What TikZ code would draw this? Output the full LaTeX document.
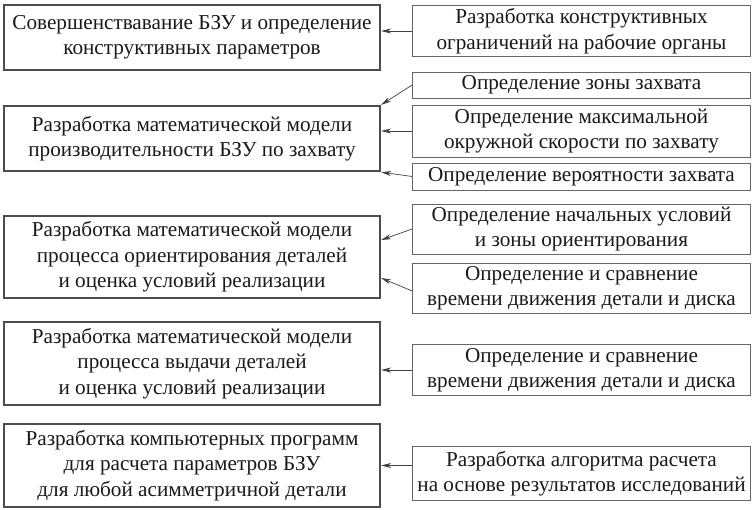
\documentclass[tikz,border=0pt]{standalone}
\usepackage{fontspec}
\setmainfont{Liberation Serif}
\usetikzlibrary{arrows.meta}
\tikzset{
  lbox/.style={draw=black!70, line width=2.4pt, minimum width=376pt, inner sep=0pt, align=center, text=black!90, font=\fontsize{21.2}{25.5}\selectfont},
  rbox/.style={draw=black!60, line width=0.8pt, minimum width=338pt, inner sep=0pt, align=center, text=black!90, font=\fontsize{21.2}{25.5}\selectfont},
  arr/.style={draw=black!75, line width=0.7pt, -{Stealth[length=10pt,width=5pt]}}
}
\begin{document}
\begin{tikzpicture}[x=1pt,y=-1pt]
\useasboundingbox (0,0) rectangle (753,510);
\node[lbox, minimum height=65pt] (b1) at (192,37.5) {Совершенствавание БЗУ и определение\\конструктивных параметров};
\node[lbox, minimum height=65pt] (b2) at (192,138.5) {Разработка математической модели\\производительности БЗУ по захвату};
\node[lbox, minimum height=82pt] (b3) at (192,257) {Разработка математической модели\\процесса ориентирования деталей\\и оценка условий реализации};
\node[lbox, minimum height=83pt] (b4) at (192,363.5) {Разработка математической модели\\процесса выдачи деталей\\и оценка условий реализации};
\node[lbox, minimum height=83pt] (b5) at (192,465.5) {Разработка компьютерных программ\\для расчета параметров БЗУ\\для любой асимметричной детали};

\node[rbox, minimum height=51pt] (r1) at (581.5,31) {Разработка конструктивных\\ограничений на рабочие органы};
\node[rbox, minimum height=26pt] (r2) at (581.5,85) {Определение зоны захвата};
\node[rbox, minimum height=52pt] (r3) at (581.5,131) {Определение максимальной\\окружной скорости по захвату};
\node[rbox, minimum height=27pt] (r4) at (581.5,176.5) {Определение вероятности захвата};
\node[rbox, minimum height=50pt] (r5) at (581.5,229) {Определение начальных условий\\и зоны ориентирования};
\node[rbox, minimum height=50pt] (r6) at (581.5,288) {Определение и сравнение\\времени движения детали и диска};
\node[rbox, minimum height=51pt] (r7) at (581.5,370) {Определение и сравнение\\времени движения детали и диска};
\node[rbox, minimum height=54pt] (r8) at (581.5,473.5) {Разработка алгоритма расчета\\на основе результатов исследований};

\draw[arr] (r1.west) -- (r1.west -| b1.east);
\draw[arr] (r2.west) -- (b2.north east);
\draw[arr] (r3.west) -- (r3.west -| b2.east);
\draw[arr] (r4.west) -- (b2.south east);
\draw[arr] (r5.west) -- ([yshift=17pt]b3.east);
\draw[arr] ([yshift=-3pt]r6.west) -- ([yshift=-21pt]b3.east);
\draw[arr] (r7.west) -- (r7.west -| b4.east);
\draw[arr] (b5.east -| r8.west) -- (b5.east);
\end{tikzpicture}
\end{document}
